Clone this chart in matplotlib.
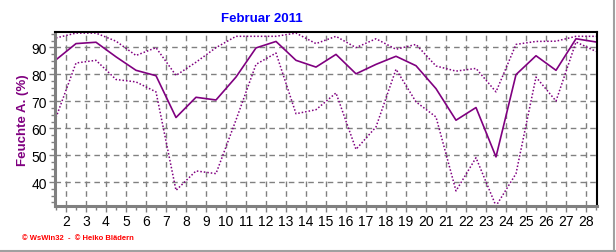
import numpy as np
import matplotlib
matplotlib.use("Agg")
from matplotlib import pyplot as plt
from matplotlib.lines import Line2D
from matplotlib.ticker import MultipleLocator

# Tagesmittel, Maximum und Minimum der relativen Feuchte (aussen), Februar 2011
days = np.arange(1, 29)
hum_mean = [85.4, 91.4, 91.9, 86.5, 81.5, 79.5, 64.0, 71.5, 70.5, 79.0,
            89.8, 92.2, 85.2, 82.7, 87.4, 80.2, 83.7, 86.7, 83.2, 74.7,
            63.0, 67.7, 49.4, 79.9, 86.9, 81.5, 93.2, 92.0]
hum_max = [93.5, 95.3, 95.3, 92.3, 87.0, 89.9, 79.6, 84.5, 89.9, 94.1,
           94.1, 94.1, 95.3, 91.4, 94.1, 89.9, 93.2, 89.3, 91.1, 83.1,
           81.2, 82.2, 73.5, 91.1, 92.2, 92.3, 94.1, 94.1]
hum_min = [64.0, 84.2, 85.2, 78.1, 77.2, 73.5, 37.0, 44.2, 43.2, 63.1,
           83.7, 87.9, 65.4, 66.9, 73.1, 52.2, 60.5, 81.9, 69.8, 64.2,
           36.8, 49.1, 31.2, 43.2, 79.0, 70.1, 92.0, 88.5]
xticks = list(range(2, 29))
yticks = [40, 50, 60, 70, 80, 90]

purple = "#800080"
plt.rcParams["font.family"] = ["Liberation Sans", "DejaVu Sans"]

fig = plt.figure(figsize=(6.16, 2.53), dpi=100)
ax = fig.add_axes([55 / 616, 1 - 207 / 253, 542 / 616, 174 / 253])

# Werte jeweils in Tagesmitte
x = days + 0.5
ax.plot(x, hum_max, color=purple, lw=1.1, ls=(0, (1, 1.3)))
ax.plot(x, hum_mean, color=purple, lw=1.2)
ax.plot(x, hum_min, color=purple, lw=1.1, ls=(0, (1, 1.3)))

ax.set_xlim(1.45, 28.55)
ax.set_ylim(31.2, 95.7)
ax.set_xticks(xticks)
ax.set_yticks(yticks)
ax.xaxis.set_minor_locator(MultipleLocator(0.5))
ax.yaxis.set_minor_locator(MultipleLocator(2.5))
ax.tick_params(which="both", direction="out", colors="#808080", labelcolor="black",
               labelsize=10, width=1, pad=2)
ax.tick_params(which="major", length=4)
ax.tick_params(which="minor", length=3)
ax.grid(True, which="major", color="#808080", ls=(0, (4, 3)), lw=1)

for side in ("left", "bottom"):
    ax.spines[side].set_color("#808080")
    ax.spines[side].set_linewidth(2.2)
for side in ("top", "right"):
    ax.spines[side].set_color("black")
    ax.spines[side].set_linewidth(1.5)

fig.text(262 / 616, 1 - 19 / 253, "Februar 2011", color="blue", fontsize=9.5,
         fontweight="bold", ha="center", va="center")
fig.text(23 / 616, 1 - 120 / 253, "Feuchte A. (%)", color=purple, fontsize=9.5,
         fontweight="bold", rotation=90, ha="center", va="center")
fig.text(22 / 616, 1 - 239 / 253, "© WsWin32  -  © Heiko Blädern", color="red",
         fontsize=5.5, fontweight="bold", ha="left", va="center")

# grauer Bildrahmen rechts und unten
fig.add_artist(Line2D([0, 1], [0.003, 0.003], transform=fig.transFigure,
                      color="#a0a0a0", lw=1.5))
fig.add_artist(Line2D([0.997, 0.997], [0, 1], transform=fig.transFigure,
                      color="#a0a0a0", lw=1.5))

fig.savefig("out.png", dpi=100)
